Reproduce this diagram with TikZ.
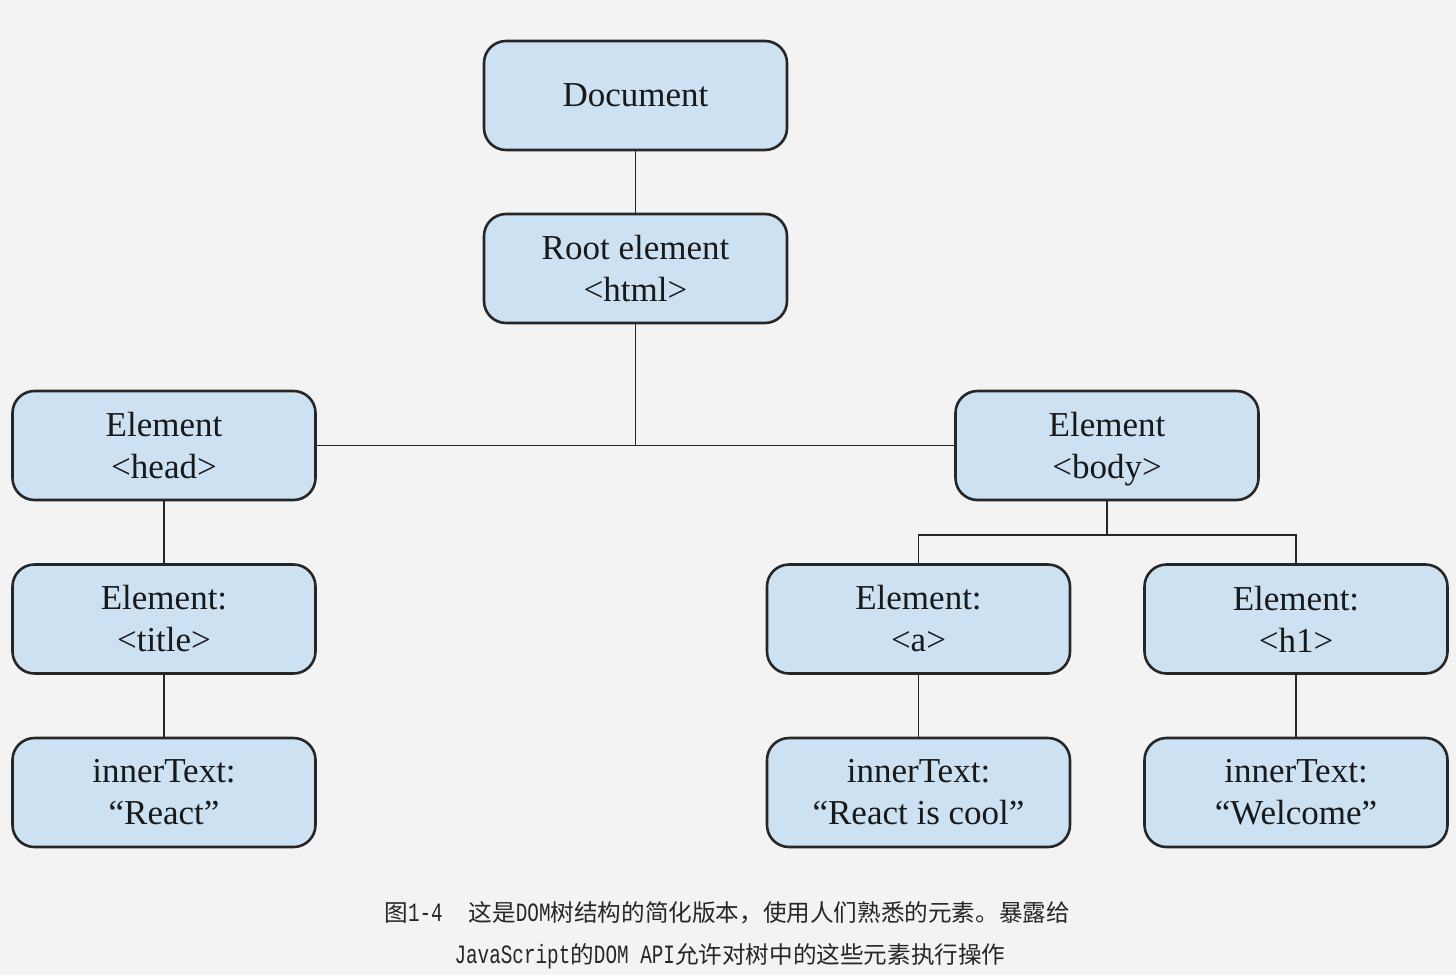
\documentclass[tikz,border=0pt]{standalone}
\usepackage{fontspec}
\setmainfont{Liberation Serif}
\newfontfamily\cjk{Noto Sans CJK SC}
\newfontfamily\monof[Scale=1.12,FakeStretch=0.73]{Liberation Mono}
\definecolor{bg}{HTML}{F3F3F3}
\definecolor{boxfill}{HTML}{CCE1F2}
\definecolor{boxline}{HTML}{262626}
\begin{document}
\begin{tikzpicture}[x=0.5pt,y=-0.5pt,
  dombox/.style={draw=boxline, fill=boxfill, line width=1.3pt, rounded corners=11pt,
    minimum width=151.5pt, minimum height=54.5pt, inner sep=0pt, align=center,
    font=\fontsize{17.5}{21}\selectfont, text=black!90},
  conn/.style={draw=boxline, line width=0.8pt},
  captext/.style={font=\fontsize{11.8}{14}\cjk, text=black!85, inner sep=0pt}]
\fill[bg] (0,0) rectangle (1456,975);
\useasboundingbox (0,0) rectangle (1456,975);
\node[dombox] (doc) at (635.5,95.5) {Document};
\node[dombox] (root) at (635.5,268.5) {Root element\\\textless html\textgreater};
\node[dombox] (head) at (164,445.5) {Element\\\textless head\textgreater};
\node[dombox] (body) at (1107,445.5) {Element\\\textless bod\smash{y}\textgreater};
\node[dombox] (title) at (164,619) {Element:\\\textless title\textgreater};
\node[dombox] (react) at (164,792.5) {innerText:\\``React''};
\node[dombox] (a) at (918.5,619) {Element:\\\textless a\textgreater};
\node[dombox] (h1) at (1296,619) {Element:\\\textless h1\textgreater};
\node[dombox] (cool) at (918.5,792.5) {innerText:\\``React is cool''};
\node[dombox] (welcome) at (1296,792.5) {innerText:\\``Welcome''};
\coordinate (rj) at (root.south |- head.east);
\coordinate (bj) at (1107,535);
\draw[conn] (doc.south) -- (root.north);
\draw[conn] (root.south) -- (rj);
\draw[conn] (head.east) -- (body.west);
\draw[conn] (head.south) -- (title.north);
\draw[conn] (title.south) -- (react.north);
\draw[conn, line width=1.3pt] (body.south) -- (bj);
\draw[conn] (a.north) |- (bj) -| (h1.north);
\draw[conn] (a.south) -- (cool.north);
\draw[conn] (h1.south) -- (welcome.north);
\node[captext, anchor=west] (cap1) at (384,913) {图{\monof 1-4}\hspace{1.1em}这是{\monof DOM}树结构的简化版本，使用人们熟悉的元素。暴露给};
\node[captext] (cap2) at (730,956) {{\monof JavaScript}的{\monof DOM API}允许对树中的这些元素执行操作};
\end{tikzpicture}
\end{document}
